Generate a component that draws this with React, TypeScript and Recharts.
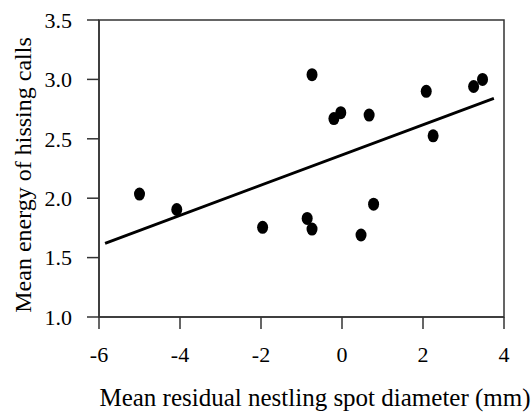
import { ScatterChart, Scatter, XAxis, YAxis, ReferenceLine, ReferenceArea, Label } from 'recharts';

// mean residual nestling spot diameter (mm)
const spotDiameter = [-5.0, -4.08, -1.96, -0.86, -0.74, -0.74, -0.2, -0.03, 0.47, 0.67, 0.78, 2.08, 2.25, 3.25, 3.47];
// mean energy of hissing calls
const callEnergy = [2.035, 1.905, 1.755, 1.83, 1.74, 3.04, 2.67, 2.72, 1.69, 2.7, 1.95, 2.9, 2.525, 2.94, 3.0];

// regression line end points
const fitX = [-5.85, 3.75];
const fitY = [1.62, 2.84];

const xTicks = [-6, -4, -2, 0, 2, 4];
const yTicks = [1.0, 1.5, 2.0, 2.5, 3.0, 3.5];

const FONT = '"Liberation Serif", "Times New Roman", serif';
const AXIS = '#333';

const points = spotDiameter.map((x, i) => ({ x, y: callEnergy[i] }));

const Dot = (props: any) => {
  const { cx, cy } = props;
  if (cx == null || cy == null) return null;
  return <ellipse cx={cx} cy={cy} rx={5.5} ry={6.5} fill="#000" />;
};

export default function App() {
  return (
    <div style={{ position: 'absolute', left: 0, top: 0, background: '#fff' }}>
      <ScatterChart width={532} height={412} margin={{ top: 20, right: 28, bottom: 0, left: 0 }}>
        <XAxis
          type="number"
          dataKey="x"
          domain={[-6, 4]}
          ticks={xTicks}
          allowDataOverflow
          height={95}
          tickSize={12}
          tickMargin={17}
          axisLine={{ stroke: AXIS, strokeWidth: 1.5 }}
          tickLine={{ stroke: AXIS, strokeWidth: 1.5 }}
          tick={{ fill: '#000', fontSize: 22, fontFamily: FONT }}
        >
          <Label
            content={() => (
              <text x={315} y={406} textAnchor="middle" fill="#000" fontSize={25} fontFamily={FONT}>
                Mean residual nestling spot diameter (mm)
              </text>
            )}
          />
        </XAxis>
        <YAxis
          type="number"
          dataKey="y"
          domain={[1, 3.5]}
          ticks={yTicks}
          allowDataOverflow
          width={99}
          tickSize={12}
          tickMargin={15}
          tickFormatter={(v: number) => v.toFixed(1)}
          axisLine={{ stroke: AXIS, strokeWidth: 1.5 }}
          tickLine={{ stroke: AXIS, strokeWidth: 1.5 }}
          tick={{ fill: '#000', fontSize: 22, fontFamily: FONT }}
        >
          <Label
            content={() => (
              <text
                x={31}
                y={175}
                transform="rotate(-90, 31, 175)"
                textAnchor="middle"
                fill="#000"
                fontSize={24}
                fontFamily={FONT}
              >
                Mean energy of hissing calls
              </text>
            )}
          />
        </YAxis>
        <ReferenceArea x1={-6} x2={4} y1={1} y2={3.5} fill="none" stroke={AXIS} strokeWidth={1.5} fillOpacity={0} />
        <ReferenceLine
          segment={[
            { x: fitX[0], y: fitY[0] },
            { x: fitX[1], y: fitY[1] },
          ]}
          stroke="#000"
          strokeWidth={2.8}
        />
        <Scatter data={points} shape={Dot} isAnimationActive={false} />
      </ScatterChart>
    </div>
  );
}
